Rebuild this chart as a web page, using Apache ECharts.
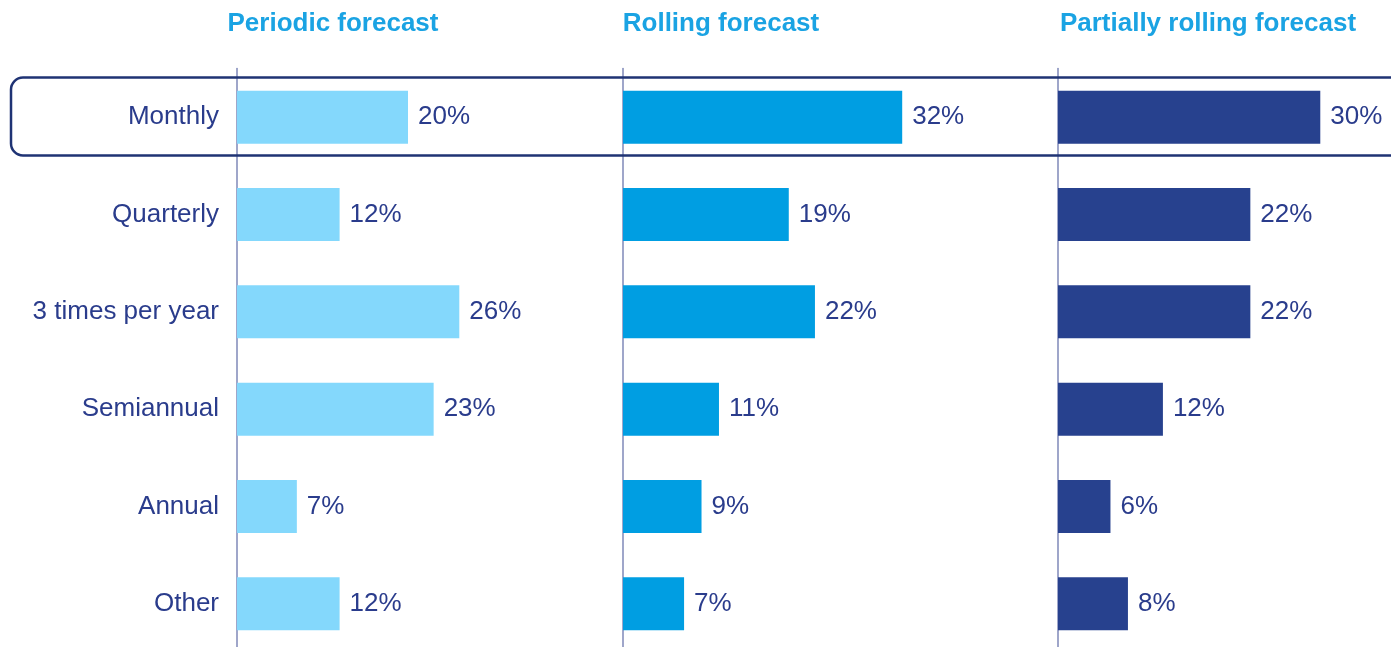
<!DOCTYPE html>
<html>
<head>
<meta charset="utf-8">
<title>Forecast frequency</title>
<script src="https://cdn.jsdelivr.net/npm/echarts@6/dist/echarts.min.js"></script>
<style>
  html, body { margin: 0; padding: 0; background: #ffffff; overflow: hidden; }
  #chart { width: 1391px; height: 660px; }
</style>
</head>
<body>
<div id="chart"></div>
<script>
// Forecast frequency by forecasting approach (share of respondents, %)
const categories = ['Monthly', 'Quarterly', '3 times per year', 'Semiannual', 'Annual', 'Other'];
const panelTitles = ['Periodic forecast', 'Rolling forecast', 'Partially rolling forecast'];
const periodic = [20, 12, 26, 23, 7, 12];
const rolling = [32, 19, 22, 11, 9, 7];
const partiallyRolling = [30, 22, 22, 12, 6, 8];

const seriesData = [periodic, rolling, partiallyRolling];
const barColors = ['#84d8fc', '#009ee2', '#27418e'];
const labelColor = '#2a3c8c';
const fontFamily = '"Liberation Sans", Arial, sans-serif';

// Panel geometry: left edge of each panel's baseline, its value range and pixel width
const panels = [
  { left: 237, max: 40, width: 342, titleX: 333 },
  { left: 623, max: 40, width: 349, titleX: 721 },
  { left: 1058, max: 35, width: 306, titleX: 1208 }
];
const gridTop = 68.5;
const gridHeight = 584;

const chart = echarts.init(document.getElementById('chart'), null, { renderer: 'canvas' });

const option = {
  backgroundColor: '#ffffff',
  animation: false,
  grid: panels.map(p => ({
    left: p.left,
    top: gridTop,
    width: p.width,
    height: gridHeight,
    containLabel: false
  })),
  xAxis: panels.map((p, i) => ({
    type: 'value',
    gridIndex: i,
    min: 0,
    max: p.max,
    show: false
  })),
  yAxis: panels.map((p, i) => ({
    type: 'category',
    gridIndex: i,
    data: categories,
    inverse: true,
    axisTick: { show: false },
    axisLine: { show: true, lineStyle: { color: '#7f88b9', width: 1.5 } },
    splitLine: { show: false },
    axisLabel: {
      show: i === 0,
      color: labelColor,
      fontSize: 26,
      fontFamily: fontFamily,
      margin: 18,
      padding: [4, 0, 0, 0]
    }
  })),
  series: seriesData.map((data, i) => ({
    type: 'bar',
    xAxisIndex: i,
    yAxisIndex: i,
    data: data,
    barWidth: 53,
    itemStyle: { color: barColors[i] },
    label: {
      show: true,
      position: 'right',
      distance: 10,
      formatter: '{c}%',
      color: labelColor,
      fontSize: 26,
      fontFamily: fontFamily,
      padding: [2, 0, 0, 0]
    }
  })),
  graphic: [
    // highlight frame around the first row
    {
      type: 'rect',
      shape: { x: 11, y: 77.5, width: 1400, height: 78, r: 12 },
      style: { fill: 'none', stroke: '#1f3374', lineWidth: 2.5 },
      z: 10
    }
  ].concat(panels.map((p, i) => ({
    type: 'text',
    x: p.titleX,
    y: 24,
    style: {
      text: panelTitles[i],
      fill: '#1aa3e3',
      font: 'bold 26px ' + fontFamily,
      textAlign: 'center',
      textVerticalAlign: 'middle'
    }
  })))
};

chart.setOption(option);
</script>
</body>
</html>
